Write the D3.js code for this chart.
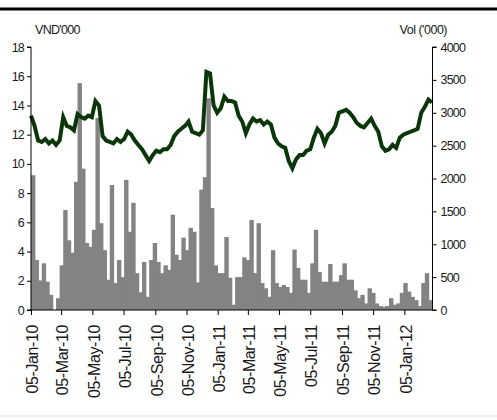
<!DOCTYPE html>
<html>
<head>
<meta charset="utf-8">
<script src="https://cdn.jsdelivr.net/npm/d3@7"></script>
<style>
  html, body { margin: 0; padding: 0; background: #fff; }
  svg { display: block; }
  text { font-family: "Liberation Sans", Arial, sans-serif; fill: #1a1a1a; }
</style>
</head>
<body>
<svg id="chart" width="497" height="420"></svg>
<script>
// ---- Data (weekly) ----
const startDate = "2010-01-05";
const endDate = "2012-02-29";

// Share price, VND'000 (one value per week from 05-Jan-10)
const price = [
  13.3, 12.6, 11.6, 11.5, 11.7, 11.4, 11.6, 11.3, 11.6, 13.2,
  12.6, 12.5, 12.3, 13.4, 13.2, 13.1, 13.3, 13.2, 14.3, 14.0,
  11.9, 11.6, 11.5, 11.4, 11.7, 11.5, 11.7, 12.2, 12.0, 11.6,
  11.3, 11.0, 10.6, 10.2, 10.6, 10.9, 10.8, 11.0, 11.0, 11.3,
  11.9, 12.2, 12.4, 12.6, 12.9, 12.2, 12.1, 12.0, 12.3, 16.3,
  16.2, 14.0, 13.5, 13.8, 14.6, 14.3, 14.3, 14.2, 13.3, 12.9,
  12.1, 12.7, 13.1, 12.9, 13.0, 12.7, 12.9, 12.7, 11.8, 11.4,
  11.2, 11.1, 10.2, 9.7, 10.3, 10.6, 10.6, 10.9, 11.0, 11.8,
  12.4, 12.1, 11.4, 12.0, 12.2, 12.6, 13.5, 13.6, 13.7, 13.5,
  13.2, 12.8, 12.6, 12.5, 12.8, 13.1, 12.6, 12.2, 11.2, 10.9,
  11.0, 11.3, 11.1, 11.8, 12.0, 12.1, 12.2, 12.3, 12.4, 13.5,
  13.9, 14.4, 14.2
];

// Volume, '000 shares (one bar per week from 05-Jan-10)
const volume = [
  2050, 760, 450, 710, 430, 230, 0, 180, 680, 1520,
  1060, 870, 1950, 3450, 2150, 1020, 960, 1220, 2920, 1320,
  910, 460, 1900, 410, 760, 500, 1980, 1190, 1630, 560,
  270, 730, 200, 760, 1020, 730, 560, 680, 610, 1450,
  840, 760, 1100, 910, 1250, 1190, 420, 1830, 2020, 3220,
  1550, 680, 560, 560, 1110, 490, 80, 500, 500, 800,
  760, 1370, 560, 1320, 410, 330, 200, 910, 410, 350,
  380, 350, 260, 920, 640, 460, 460, 260, 710, 1220,
  580, 430, 430, 700, 430, 430, 530, 710, 460, 460,
  300, 180, 230, 100, 330, 260, 100, 60, 50, 60,
  180, 80, 100, 260, 410, 280, 200, 150, 60, 410,
  560, 150
];

const priceTicks = [0, 2, 4, 6, 8, 10, 12, 14, 16, 18];
const volumeTicks = [0, 500, 1000, 1500, 2000, 2500, 3000, 3500, 4000];
const leftTitle = "VND'000";
const rightTitle = "Vol ('000)";

// ---- Layout ----
const svg = d3.select("#chart");
const margin = { left: 31, right: 65, top: 47, bottom: 110 };
const W = 497, H = 420;
const x0 = margin.left, x1 = W - margin.right + 0.5;
const y0 = H - margin.bottom, y1 = margin.top;

const parse = d3.utcParse("%Y-%m-%d");
const tStart = parse(startDate), tEnd = parse(endDate);
const weekDates = d3.range(Math.max(price.length, volume.length) + 1)
  .map(i => d3.utcDay.offset(tStart, i * 7));

const x = d3.scaleUtc().domain([tStart, tEnd]).range([x0, x1]);
const yP = d3.scaleLinear().domain([0, 18]).range([y0, y1]);
const yV = d3.scaleLinear().domain([0, 4000]).range([y0, y1]);

// top rule
svg.append("line")
  .attr("x1", 0).attr("x2", W).attr("y1", 9).attr("y2", 9)
  .attr("stroke", "#000").attr("stroke-width", 3);

// bottom faint rule
svg.append("line")
  .attr("x1", 0).attr("x2", W).attr("y1", 416).attr("y2", 416)
  .attr("stroke", "#e4e4e4").attr("stroke-width", 1);

// clip
svg.append("clipPath").attr("id", "plotclip")
  .append("rect").attr("x", x0).attr("y", 0).attr("width", x1 - x0).attr("height", y0);

// volume bars
svg.append("g").attr("clip-path", "url(#plotclip)")
  .selectAll("rect").data(volume).join("rect")
  .attr("x", (d, i) => x(weekDates[i]))
  .attr("width", (d, i) => x(weekDates[i + 1]) - x(weekDates[i]) + 0.8)
  .attr("y", d => yV(d))
  .attr("height", d => yV(0) - yV(d))
  .attr("fill", "#838383");

// price line
const line = d3.line()
  .x((d, i) => x(weekDates[i]))
  .y(d => yP(d));
svg.append("path")
  .datum(price)
  .attr("d", line)
  .attr("fill", "none")
  .attr("stroke", "#0a360a")
  .attr("stroke-width", 4)
  .attr("stroke-linejoin", "miter");

// axes
const leftAxis = d3.axisLeft(yP).tickValues(priceTicks).tickSize(4).tickPadding(3)
  .tickFormat(d3.format("d"));
const gl = svg.append("g").attr("transform", `translate(${x0},0)`).call(leftAxis);

const rightAxis = d3.axisRight(yV).tickValues(volumeTicks).tickSize(4).tickPadding(4)
  .tickFormat(d3.format("d"));
const gr = svg.append("g").attr("transform", `translate(${x1},0)`).call(rightAxis);

const xTicks = d3.range(0, 13).map(i => d3.utcMonth.offset(tStart, i * 2));
const bottomAxis = d3.axisBottom(x).tickValues(xTicks).tickSize(5)
  .tickFormat(d3.utcFormat("%d-%b-%y"));
const gb = svg.append("g").attr("transform", `translate(0,${y0})`).call(bottomAxis);

[gl, gr, gb].forEach(g => {
  g.select(".domain").attr("stroke", "#000");
  g.selectAll(".tick line").attr("stroke", "#000");
  g.selectAll("text").attr("fill", "#1a1a1a")
    .style("font-family", "'Liberation Sans', Arial, sans-serif");
});
gl.select(".domain").attr("d", `M-4,${y1}H0V${y0}H-4`);
gr.select(".domain").attr("d", `M4,${y1}H0V${y0}H4`);
gb.select(".domain").attr("d", `M${x0},0H${x1}`);

gl.selectAll("text").style("font-size", "12.5px").style("letter-spacing", "-0.8px");
gr.selectAll("text").style("font-size", "12.5px").style("letter-spacing", "-0.8px");
gb.selectAll("text")
  .style("font-size", "16px").style("letter-spacing", "-0.4px")
  .attr("text-anchor", "end")
  .attr("transform", "rotate(-90)")
  .attr("x", -15).attr("y", 0).attr("dy", "0.42em");

// axis titles
svg.append("text").attr("x", 35).attr("y", 34).text(leftTitle)
  .style("font-size", "12.5px").style("letter-spacing", "-0.7px");
svg.append("text").attr("x", 447).attr("y", 34).attr("text-anchor", "end").text(rightTitle)
  .style("font-size", "12.5px").style("letter-spacing", "-0.5px");
</script>
</body>
</html>
